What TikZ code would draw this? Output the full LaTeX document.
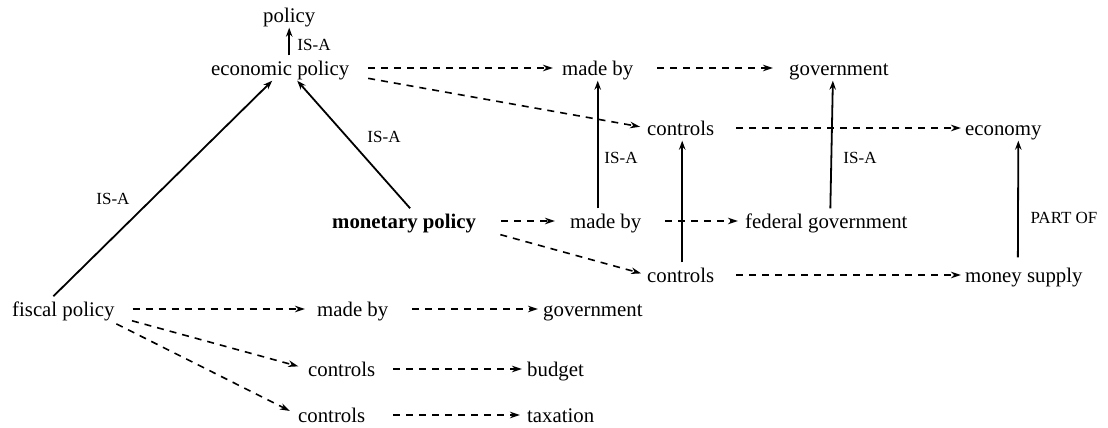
\documentclass[tikz,border=0pt]{standalone}
\usepackage{fontspec}
\setmainfont{Liberation Serif}
\usetikzlibrary{arrows.meta}
\begin{document}
\begin{tikzpicture}[x=1pt,y=-1pt,
  txt/.style={inner sep=0pt, text height=20pt, text depth=5pt, anchor=west, font=\fontsize{20.8}{24}\selectfont},
  lbl/.style={inner sep=0pt, font=\fontsize{17}{20}\selectfont},
  dsh/.style={draw, line width=1.6pt, dash pattern=on 7pt off 6pt, -{Stealth[length=10pt,width=6.5pt,inset=3pt]}},
  isa/.style={draw, line width=1.8pt, -{Stealth[length=9pt,width=6.5pt]}}]
\useasboundingbox (0,0) rectangle (1108,428);
% nodes
\node[txt] (policy) at (263,15) {policy};
\node[txt] (econ) at (211,68) {economic policy};
\node[txt] (fiscal) at (12,309) {fiscal policy};
\node[txt,font=\fontsize{20.8}{24}\selectfont\bfseries] (monetary) at (332,221) {monetary policy};
\node[txt] (madeA) at (562,68) {made by};
\node[txt] (govA) at (789,68) {government};
\node[txt] (ctrlA) at (647,128) {controls};
\node[txt] (economy) at (965,128) {economy};
\node[txt] (madeB) at (570,221) {made by};
\node[txt] (fedgov) at (745,221) {federal government};
\node[txt] (ctrlB) at (647,275) {controls};
\node[txt] (money) at (965,275) {money supply};
\node[txt] (madeC) at (317,309) {made by};
\node[txt] (govC) at (543,309) {government};
\node[txt] (ctrlC) at (308,369) {controls};
\node[txt] (budget) at (527,369) {budget};
\node[txt] (ctrlD) at (298,415) {controls};
\node[txt] (taxation) at (527,415) {taxation};
% labels
\node[lbl] (l1) at (314,45) {IS-A};
\node[lbl] (l2) at (113,199) {IS-A};
\node[lbl] (l3) at (384,137) {IS-A};
\node[lbl] (l4) at (621,158) {IS-A};
\node[lbl] (l5) at (860,158) {IS-A};
\node[lbl] (l6) at (1064,218) {PART OF};
% solid arrows
\draw[isa] (policy.south |- econ.north) -- (policy.south);
\draw[isa] ([xshift=-10pt]fiscal.north) -- ([xshift=-8pt]econ.south);
\draw[isa] ([xshift=6pt]monetary.north) -- ([xshift=17pt]econ.south);
\draw[isa] (madeB.north -| madeA.south) -- (madeA.south);
\draw[isa] ([xshift=1.5pt]ctrlB.north) -- ([xshift=1.5pt]ctrlA.south);
\draw[isa] ([xshift=4pt]fedgov.north) -- ([xshift=-6pt]govA.south);
\draw[isa,shorten <=5pt] ([xshift=-6pt]money.north) -- ([xshift=15pt]economy.south);
% dashed arrows
\draw[dsh, shorten <=19pt, shorten >=9pt] (econ.east) -- (madeA.west);
\draw[dsh, shorten <=19pt, shorten >=7pt] ([yshift=-7pt]econ.east) -- (ctrlA.west);
\draw[dsh, shorten <=24pt, shorten >=16pt] (madeA.east) -- (govA.west);
\draw[dsh, shorten <=22pt, shorten >=4pt] (ctrlA.east) -- (economy.west);
\draw[dsh, shorten <=25pt, shorten >=15pt] (monetary.east) -- (madeB.west);
\draw[dsh, shorten <=25pt, shorten >=6pt] ([yshift=-7pt]monetary.east) -- (ctrlB.west);
\draw[dsh, shorten <=24pt, shorten >=7pt] (madeB.east) -- (fedgov.west);
\draw[dsh, shorten <=22pt, shorten >=4pt] (ctrlB.east) -- (money.west);
\draw[dsh, shorten <=18pt, shorten >=12pt] (fiscal.east) -- (madeC.west);
\draw[dsh, shorten <=24pt, shorten >=5pt] (madeC.east) -- (govC.west);
\draw[dsh, shorten <=18pt, shorten >=10pt] ([yshift=-7pt]fiscal.east) -- (ctrlC.west);
\draw[dsh, shorten <=2pt, shorten >=9pt] ([yshift=-14pt]fiscal.east) -- (ctrlD.west);
\draw[dsh, shorten <=18pt, shorten >=5pt] (ctrlC.east) -- (budget.west);
\draw[dsh, shorten <=28pt, shorten >=7pt] (ctrlD.east) -- (taxation.west);
\end{tikzpicture}
\end{document}
